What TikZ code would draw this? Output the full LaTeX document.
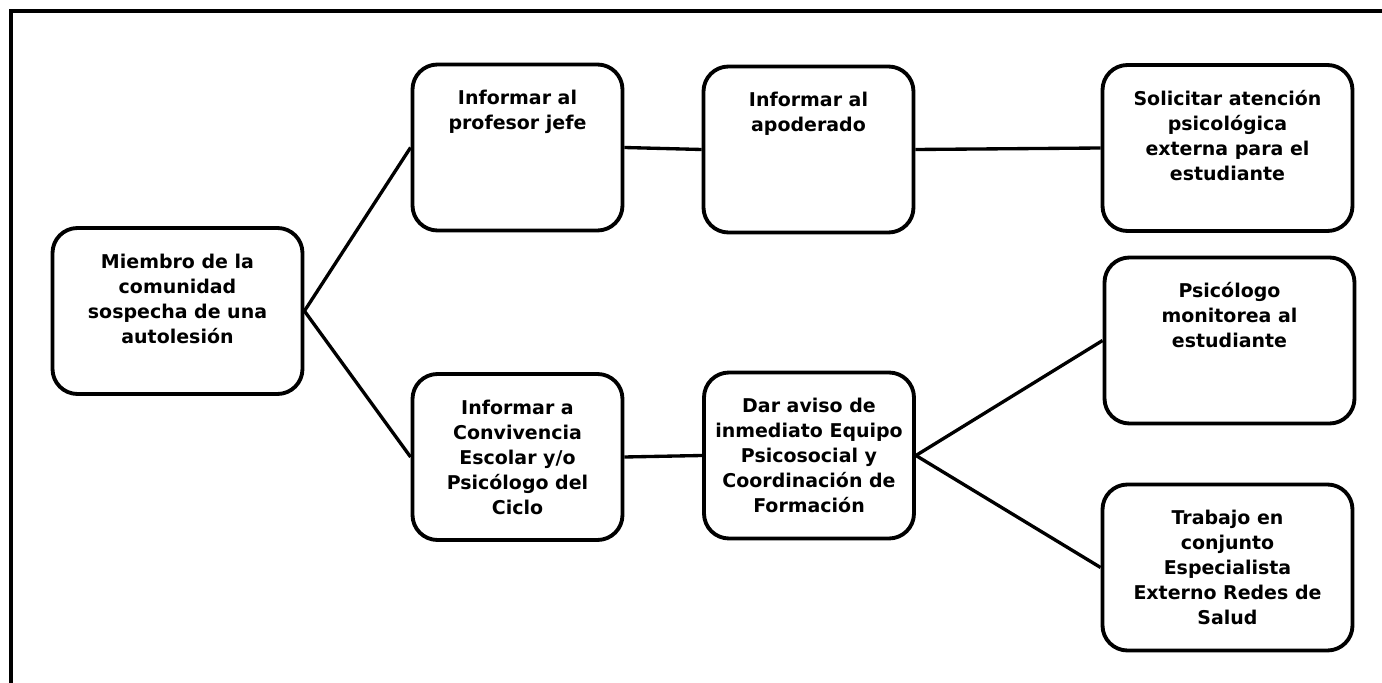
\documentclass[tikz,border=0pt]{standalone}
\usepackage{fontspec}
\setmainfont{DejaVu Sans}
\usepackage{tikz}

% top-aligned text inside a box of fixed size
\newcommand{\boxtxt}[2]{\parbox[c][3.32cm][t]{#1}{\centering\rule{0pt}{23pt}#2}}

\tikzset{
  paso/.style={draw, line width=2.2pt, rounded corners=0.5cm, inner sep=0pt,
    font=\fontsize{10.8pt}{14.2pt}\selectfont\bfseries},
  link/.style={line width=1.9pt}
}

\begin{document}
\begin{tikzpicture}
    \useasboundingbox (0,0) rectangle (27.64,-13.66);

    % Draw frame (top and left)
    \draw[line width=2.2pt] (27.64,-0.22) -- (0.22,-0.22) -- (0.22,-13.66);

    % Steps
    \node[paso] (miembro) at (3.55,-6.22) {\boxtxt{5.0cm}{Miembro de la\\comunidad\\sospecha de una\\autolesión}};
    \node[paso] (profesor) at (10.35,-2.95) {\boxtxt{4.2cm}{Informar al\\profesor jefe}};
    \node[paso] (apoderado) at (16.17,-2.99) {\boxtxt{4.2cm}{Informar al\\apoderado}};
    \node[paso] (solicitar) at (24.55,-2.96) {\boxtxt{5.0cm}{Solicitar atención\\psicológica\\externa para el\\estudiante}};
    \node[paso] (convivencia) at (10.35,-9.14) {\boxtxt{4.2cm}{Informar a\\Convivencia\\Escolar y/o\\Psicólogo del\\Ciclo}};
    \node[paso] (aviso) at (16.18,-9.11) {\boxtxt{4.2cm}{Dar aviso de\\inmediato Equipo\\Psicosocial y\\Coordinación de\\Formación}};
    \node[paso] (monitorea) at (24.59,-6.81) {\boxtxt{5.0cm}{Psicólogo\\monitorea al\\estudiante}};
    \node[paso] (trabajo) at (24.55,-11.35) {\boxtxt{5.0cm}{Trabajo en\\conjunto\\Especialista\\Externo Redes de\\Salud}};

    % Connect the steps
    \foreach \a/\b in {miembro/profesor, miembro/convivencia, profesor/apoderado, apoderado/solicitar, convivencia/aviso, aviso/monitorea, aviso/trabajo} {
      \draw[link] (\a.east) -- (\b.west);
    }
\end{tikzpicture}
\end{document}
